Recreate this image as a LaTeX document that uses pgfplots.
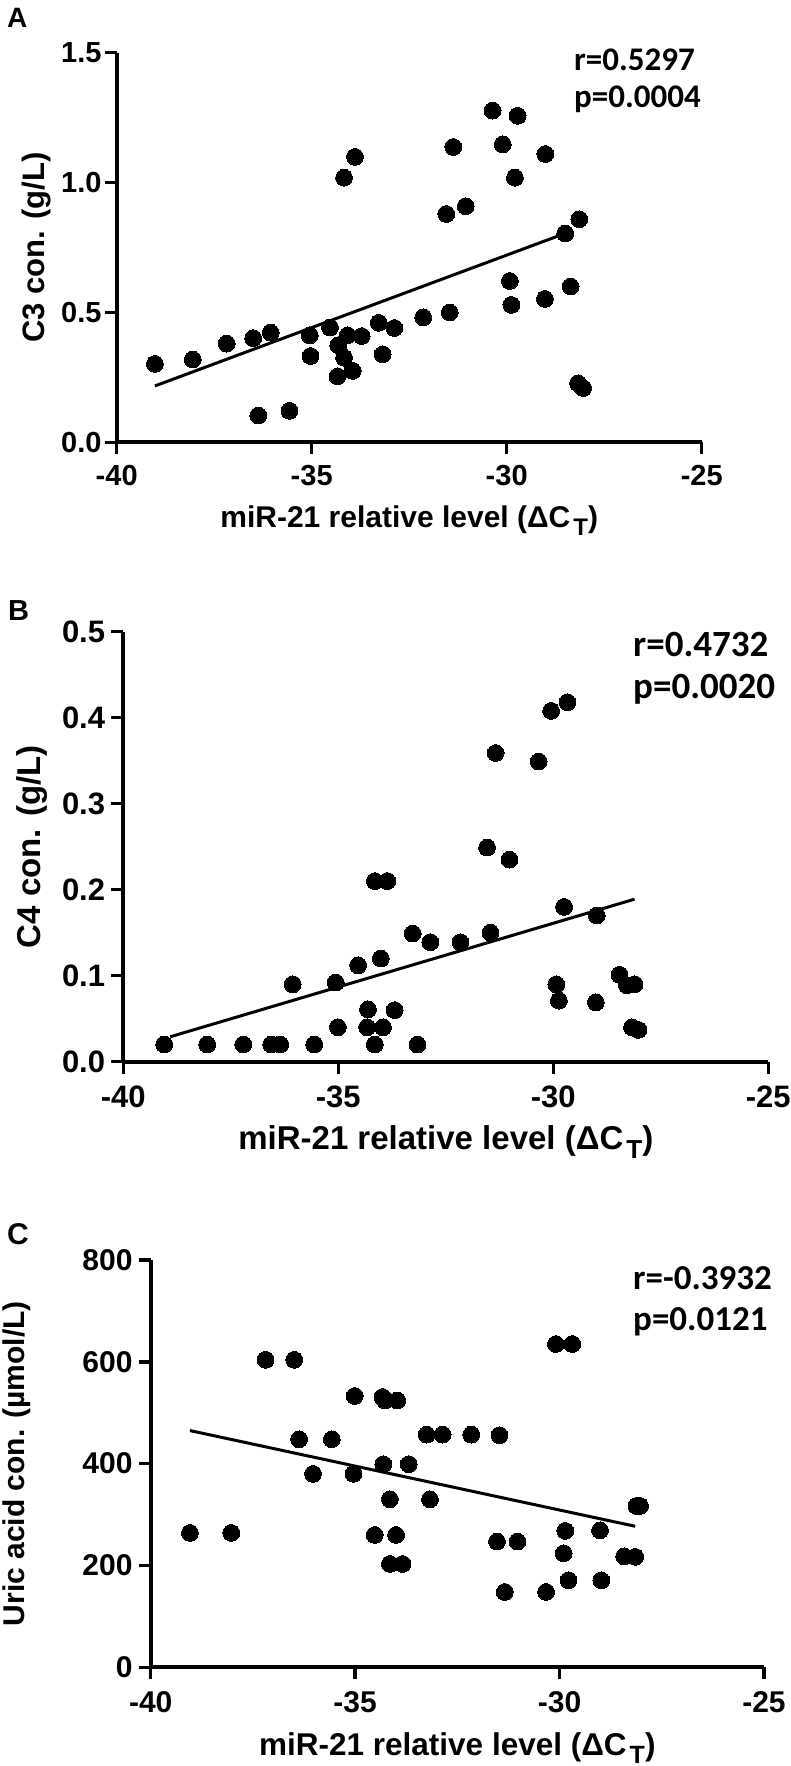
\documentclass[border=0pt]{standalone}
\usepackage{pgfplots}
\pgfplotsset{compat=1.18}
\usepackage{fontspec}
\setmainfont{Liberation Sans}
\newfontfamily\rpfont{Carlito}
\newcommand\fs[1]{\fontsize{#1}{#1}\selectfont\bfseries}
\newcommand\dct[3]{miR-21 relative level (ΔC\kern#3pt\raisebox{-#2pt}{\fontsize{#1}{#1}\selectfont T})}
\pgfplotsset{
  gp/.style={
    scale only axis, anchor=south west, clip=false,
    axis lines=left, axis line style={-, line width=4pt, black},
    tick align=outside, major tick length=12pt,
    every tick/.style={line width=3.5pt, black},
    xmin=-40, xmax=-25,
    xtick={-40,-35,-30,-25}, xticklabels={-40,-35,-30,-25},
    xticklabel style={anchor=base, inner sep=0pt},
    yticklabel style={anchor=east, inner sep=0pt},
  },
  dots/.style={only marks, mark=*, mark size=8.4pt, mark options={fill=black, draw=black, line width=0pt}},
  reg/.style={no marks, line width=3pt, black},
}
\begin{document}
\begin{tikzpicture}
\path[use as bounding box] (0pt,0pt) rectangle (790pt,-1766pt);

% Panel A
\begin{axis}[gp, at={(116.7pt,-442.3pt)}, width=585pt, height=389.6pt,
  ymin=0, ymax=1.5, ytick={0,0.5,1,1.5}, yticklabels={0.0,0.5,1.0,1.5},
  xticklabel style={font=\fs{29}, yshift=-31pt},
  yticklabel style={font=\fs{29}, xshift=-3pt},
]
\addplot[dots] coordinates {
(-39.02,0.302) (-38.05,0.319) (-37.18,0.380) (-36.50,0.401) (-36.05,0.422)
(-36.37,0.103) (-35.57,0.121) (-35.05,0.412) (-35.03,0.332) (-34.53,0.442)
(-34.34,0.254) (-34.32,0.374) (-34.08,0.412) (-34.17,0.326) (-33.95,0.275)
(-33.72,0.409) (-33.89,1.099) (-34.17,1.019) (-33.28,0.460) (-33.18,0.339)
(-32.88,0.440) (-32.14,0.481) (-31.46,0.500) (-31.55,0.879) (-31.05,0.909)
(-31.37,1.137) (-30.36,1.277) (-30.10,1.147) (-29.72,1.257) (-29.79,1.019)
(-29.92,0.621) (-29.88,0.529) (-29.02,0.552) (-29.01,1.110) (-28.36,0.600)
(-28.50,0.804) (-28.14,0.859) (-28.17,0.227) (-28.04,0.209)
};
\addplot[reg] coordinates {(-39.02,0.217) (-28.40,0.810)};
\node[anchor=base, inner sep=0pt, font=\fs{30}] at (axis description cs:0.5,-0.218) {\dct{24}{8}{3}};
\node[anchor=base, rotate=90, inner sep=0pt, font=\fs{31}] at (axis description cs:-0.123,0.5) {C3 con. (g/L)};
\end{axis}

% Panel B
\begin{axis}[gp, at={(123.3pt,-1061.7pt)}, width=645pt, height=430pt,
  ymin=0, ymax=0.5, ytick={0,0.1,0.2,0.3,0.4,0.5}, yticklabels={0.0,0.1,0.2,0.3,0.4,0.5},
  xticklabel style={font=\fs{31}, yshift=-34pt},
  yticklabel style={font=\fs{31}, xshift=-6pt},
]
\addplot[dots] coordinates {
(-39.05,0.020) (-38.05,0.020) (-37.21,0.020) (-36.56,0.020) (-36.35,0.020)
(-35.56,0.020) (-34.15,0.020) (-33.16,0.020) (-36.06,0.090) (-35.06,0.092)
(-34.54,0.112) (-34.01,0.120) (-35.01,0.040) (-34.31,0.061) (-34.33,0.040)
(-33.96,0.040) (-33.69,0.060) (-34.15,0.210) (-33.86,0.210) (-33.27,0.149)
(-32.86,0.139) (-32.16,0.139) (-31.46,0.150) (-31.54,0.249) (-31.02,0.235)
(-31.34,0.359) (-30.34,0.349) (-30.05,0.408) (-29.67,0.418) (-29.75,0.180)
(-29.93,0.090) (-29.87,0.071) (-28.99,0.170) (-29.01,0.069) (-28.46,0.101)
(-28.29,0.089) (-28.11,0.090) (-28.17,0.040) (-28.02,0.037)
};
\addplot[reg] coordinates {(-38.91,0.029) (-28.11,0.189)};
\node[anchor=base, inner sep=0pt, font=\fs{33}] at (axis description cs:0.5,-0.205) {\dct{26}{9}{3}};
\node[anchor=base, rotate=90, inner sep=0pt, font=\fs{33}] at (axis description cs:-0.128,0.5) {C4 con. (g/L)};
\end{axis}

% Panel C
\begin{axis}[gp, at={(150.7pt,-1667.3pt)}, width=613.3pt, height=407.3pt,
  ymin=0, ymax=800, ytick={0,200,400,600,800}, yticklabels={0,200,400,600,800},
  xticklabel style={font=\fs{30}, yshift=-33pt},
  yticklabel style={font=\fs{30}, xshift=-6pt},
]
\addplot[dots] coordinates {
(-39.04,264) (-38.03,264) (-37.19,604) (-36.49,604) (-36.37,448)
(-35.57,448) (-36.03,380) (-35.04,380) (-35.01,533) (-34.33,531)
(-34.27,524) (-33.97,524) (-34.31,399) (-33.69,399) (-34.52,260)
(-34.00,260) (-34.15,330) (-33.17,330) (-34.15,203) (-33.84,203)
(-33.25,457) (-32.86,457) (-32.16,457) (-31.47,456) (-31.53,247)
(-31.03,247) (-31.34,148) (-30.33,148) (-30.09,635) (-29.69,635)
(-29.86,268) (-29.90,224) (-29.78,171) (-29.01,269) (-28.98,171)
(-28.42,218) (-28.15,217) (-28.12,317) (-28.03,317)
};
\addplot[reg] coordinates {(-39.04,465) (-28.15,277)};
\node[anchor=base, inner sep=0pt, font=\fs{31.5}] at (axis description cs:0.5,-0.216) {\dct{25}{8}{3}};
\node[anchor=base, rotate=90, inner sep=0pt, font=\fs{30}] at (axis description cs:-0.205,0.5) {Uric acid con. (µmol/L)};
\end{axis}

% panel letters
\node[anchor=base west, inner sep=0pt, font=\fs{28}] at (7pt,-28pt) {A};
\node[anchor=base west, inner sep=0pt, font=\fs{29}] at (8pt,-620pt) {B};
\node[anchor=base west, inner sep=0pt, font=\fs{30}] at (7pt,-1244pt) {C};

% statistics
\node[anchor=base west, inner sep=0pt, font=\rpfont\fontsize{33}{33}\selectfont\bfseries] at (574pt,-71pt) {r=0.5297};
\node[anchor=base west, inner sep=0pt, font=\rpfont\fontsize{33}{33}\selectfont\bfseries] at (574pt,-108pt) {p=0.0004};
\node[anchor=base west, inner sep=0pt, font=\rpfont\fontsize{37}{37}\selectfont\bfseries] at (633pt,-656pt) {r=0.4732};
\node[anchor=base west, inner sep=0pt, font=\rpfont\fontsize{37}{37}\selectfont\bfseries] at (633pt,-698pt) {p=0.0020};
\node[anchor=base west, inner sep=0pt, font=\rpfont\fontsize{35}{35}\selectfont\bfseries] at (633pt,-1289pt) {r=-0.3932};
\node[anchor=base west, inner sep=0pt, font=\rpfont\fontsize{35}{35}\selectfont\bfseries] at (633pt,-1330pt) {p=0.0121};
\end{tikzpicture}
\end{document}
